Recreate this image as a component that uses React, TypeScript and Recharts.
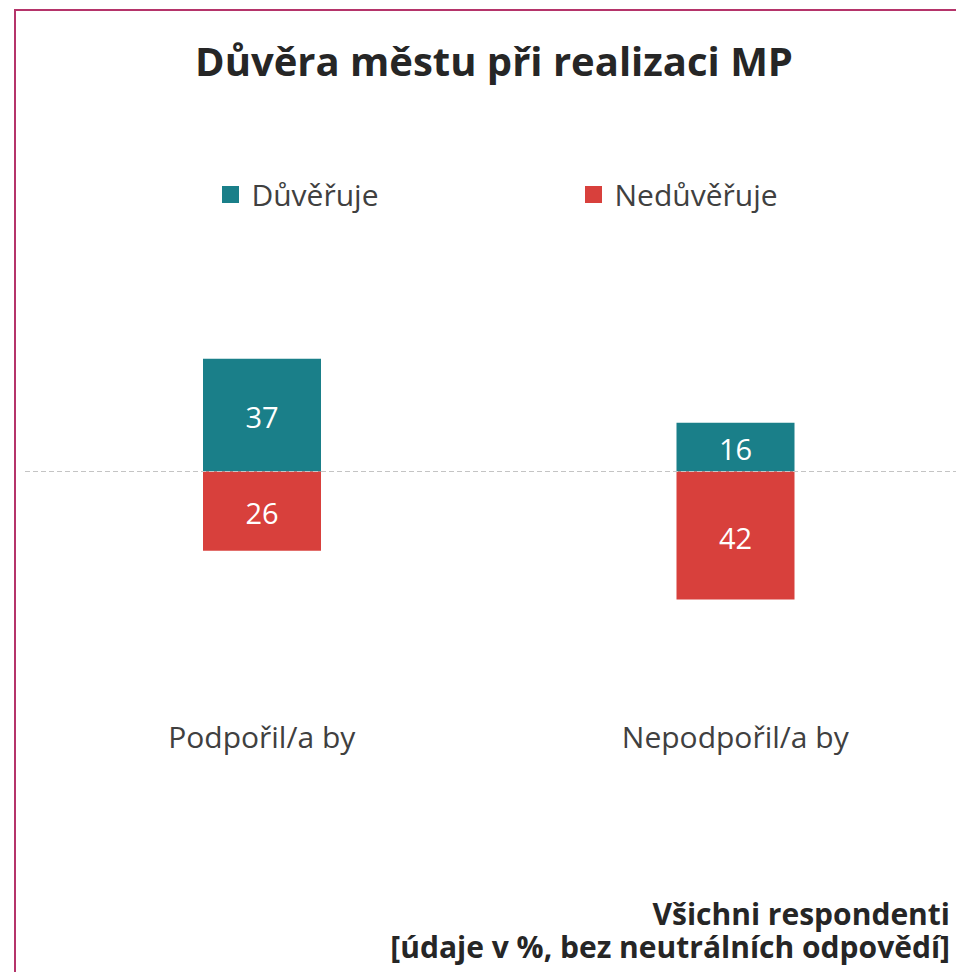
import React from "react";
import { BarChart, Bar, XAxis, YAxis, ReferenceLine, LabelList, Legend } from "recharts";

const categories = ["Podpořil/a by", "Nepodpořil/a by"];
const duveruje = [37, 16];
const neduveruje = [26, 42];
const seriesNames = ["Důvěřuje", "Nedůvěřuje"];
const seriesColors = ["#1A7F89", "#D8403C"];
const noteLines = ["Všichni respondenti", "[údaje v %, bez neutrálních odpovědí]"];

const data = categories.map((c, i) => ({
  name: c,
  duv: duveruje[i],
  ned: -neduveruje[i],
}));

const FONT = '"Segoe UI", "Open Sans", sans-serif';

const renderLegend = (props: any) => {
  const payload = props.payload || [];
  return (
    <div style={{ display: "flex", justifyContent: "center", gap: 207, fontFamily: FONT, fontSize: 30, color: "#404040" }}>
      {payload.map((e: any, i: number) => (
        <div key={i} style={{ display: "flex", alignItems: "center" }}>
          <span style={{ display: "inline-block", width: 17, height: 17, background: e.color, marginRight: 12 }} />
          <span>{e.value}</span>
        </div>
      ))}
    </div>
  );
};

export default function App() {
  return (
    <div style={{ position: "relative", width: 956, height: 972, overflow: "hidden", background: "#fff", fontFamily: FONT }}>
      <style>{`html,body{margin:0;padding:0;overflow:hidden;}`}</style>
      <div
        style={{
          position: "absolute",
          left: 14,
          top: 9,
          width: 1000,
          height: 1000,
          borderLeft: "2px solid #B5346A",
          borderTop: "2px solid #B5346A",
        }}
      />
      <div
        style={{
          position: "absolute",
          left: 8,
          width: 972,
          top: 37,
          textAlign: "center",
          fontSize: 40,
          fontWeight: 700,
          color: "#262626",
          lineHeight: "48px",
          whiteSpace: "nowrap",
        }}
      >
        Důvěra městu při realizaci MP
      </div>
      <div style={{ position: "absolute", left: 8, top: 8 }}>
        <BarChart
          width={980}
          height={964}
          data={data}
          stackOffset="sign"
          margin={{ top: 219.5, right: 16, bottom: 196.5, left: 17 }}
        >
          <XAxis
            dataKey="name"
            axisLine={false}
            tickLine={false}
            tickSize={0}
            tickMargin={11}
            height={60}
            tick={{ fontSize: 30, fill: "#404040", fontFamily: FONT }}
          />
          <YAxis hide domain={[-80, 80]} />
          <Legend
            verticalAlign="middle"
            align="center"
            layout="horizontal"
            content={renderLegend}
            wrapperStyle={{ top: 166, left: 2, width: 980 }}
          />
          <Bar dataKey="duv" name={seriesNames[0]} stackId="a" fill={seriesColors[0]} barSize={118} isAnimationActive={false}>
            <LabelList dataKey="duv" position="center" fill="#ffffff" fontSize={29} fontFamily={FONT} dy={3} formatter={(v: any) => Math.abs(v)} />
          </Bar>
          <Bar dataKey="ned" name={seriesNames[1]} stackId="a" fill={seriesColors[1]} barSize={118} isAnimationActive={false}>
            <LabelList dataKey="ned" position="center" fill="#ffffff" fontSize={29} fontFamily={FONT} dy={3} formatter={(v: any) => Math.abs(v)} />
          </Bar>
          <ReferenceLine y={0} stroke="#C4C4C4" strokeDasharray="5 3" strokeWidth={1.2} />
        </BarChart>
      </div>
      {noteLines.map((t, i) => (
        <div
          key={i}
          style={{
            position: "absolute",
            right: 6,
            top: 897 + i * 33,
            height: 33,
            textAlign: "right",
            fontSize: 30,
            fontWeight: 700,
            color: "#262626",
            lineHeight: "33px",
            whiteSpace: "nowrap",
          }}
        >
          {t}
        </div>
      ))}
    </div>
  );
}
